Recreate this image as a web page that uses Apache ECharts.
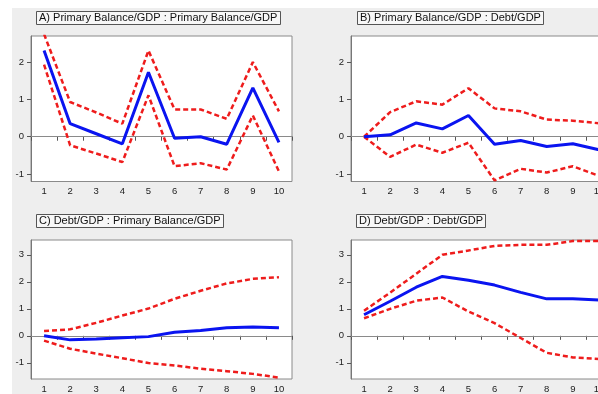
<!DOCTYPE html>
<html><head><meta charset="utf-8">
<script src="https://cdn.jsdelivr.net/npm/echarts@6/dist/echarts.min.js"></script>
<style>html,body{margin:0;padding:0;background:#fff;overflow:hidden}#c{width:620px;height:394px}</style>
</head><body><div id="c"></div>
<script>
const categories = ['1','2','3','4','5','6','7','8','9','10'];
const titles = [
  'A) Primary Balance/GDP : Primary Balance/GDP',
  'B) Primary Balance/GDP : Debt/GDP',
  'C) Debt/GDP : Primary Balance/GDP',
  'D) Debt/GDP : Debt/GDP'
];
const aMid = [2.31, 0.35, 0.08, -0.19, 1.73, -0.04, 0.0, -0.2, 1.31, -0.15];
const aUp  = [2.75, 0.93, 0.65, 0.35, 2.31, 0.73, 0.73, 0.48, 2.0, 0.68];
const aLo  = [1.93, -0.23, -0.45, -0.68, 1.11, -0.79, -0.71, -0.88, 0.57, -0.93];
const bMid = [0, 0.05, 0.37, 0.21, 0.57, -0.2, -0.1, -0.26, -0.19, -0.35];
const bUp  = [0, 0.66, 0.95, 0.86, 1.3, 0.76, 0.68, 0.46, 0.43, 0.36];
const bLo  = [0, -0.54, -0.21, -0.43, -0.16, -1.17, -0.86, -0.96, -0.79, -1.05];
const cMid = [0, -0.15, -0.12, -0.07, -0.03, 0.13, 0.2, 0.3, 0.33, 0.3];
const cUp  = [0.18, 0.24, 0.48, 0.75, 1.01, 1.37, 1.67, 1.94, 2.11, 2.17];
const cLo  = [-0.18, -0.48, -0.66, -0.83, -1.01, -1.1, -1.22, -1.31, -1.41, -1.55];
const dMid = [0.78, 1.28, 1.8, 2.2, 2.06, 1.88, 1.61, 1.37, 1.37, 1.33];
const dUp  = [0.93, 1.6, 2.3, 3.0, 3.16, 3.33, 3.37, 3.37, 3.51, 3.51];
const dLo  = [0.65, 1.0, 1.3, 1.42, 0.9, 0.47, -0.08, -0.63, -0.8, -0.86];
const ticksTop = [-1, 0, 1, 2];
const ticksBottom = [-1, 0, 1, 2, 3];
const rangeTop = [-1.2, 2.7];
const rangeBottom = [-1.6, 3.55];

const panels = [
  {mid: aMid, up: aUp, lo: aLo, ticks: ticksTop, range: rangeTop},
  {mid: bMid, up: bUp, lo: bLo, ticks: ticksTop, range: rangeTop},
  {mid: cMid, up: cUp, lo: cLo, ticks: ticksBottom, range: rangeBottom},
  {mid: dMid, up: dUp, lo: dLo, ticks: ticksBottom, range: rangeBottom}
];
const gridPos = [
  {left: 31, top: 36, width: 261, height: 145.5},
  {left: 351, top: 36, width: 261, height: 145.5},
  {left: 31, top: 240, width: 261, height: 143.5},
  {left: 351, top: 240, width: 261, height: 143.5}
];
const titlePos = [
  {left: 36, top: 11},
  {left: 357, top: 11},
  {left: 36, top: 214},
  {left: 356, top: 214}
];
const FONT = "'Liberation Sans', Arial, sans-serif";
const chart = echarts.init(document.getElementById('c'), null, {renderer: 'canvas'});
const option = {
  animation: false,
  backgroundColor: '#ffffff',
  graphic: [{type: 'rect', shape: {x: 12, y: 8, width: 620, height: 400}, style: {fill: '#eeeeee'}, z: -10, silent: true}],
  title: titles.map((t, i) => ({
    text: t, left: titlePos[i].left, top: titlePos[i].top,
    padding: [1, 3, 1, 3], borderColor: '#555', borderWidth: 1, backgroundColor: '#f7f7f7',
    textStyle: {fontFamily: FONT, fontSize: 11, fontWeight: 'normal', color: '#111', lineHeight: 12}
  })),
  grid: gridPos.map(g => Object.assign({show: true, backgroundColor: '#fff', borderColor: '#8a8a8a', borderWidth: 1, containLabel: false}, g)),
  xAxis: panels.map((p, i) => ({
    type: 'category', gridIndex: i, data: categories, boundaryGap: true,
    axisLine: {lineStyle: {color: '#777', width: 1}},
    axisTick: {show: true, inside: false, length: 4, alignWithLabel: false, lineStyle: {color: '#555'}},
    axisLabel: {fontFamily: FONT, fontSize: 9.5, color: '#222', margin: 5, interval: 0},
    splitLine: {show: false}
  })),
  yAxis: panels.map((p, i) => ({
    type: 'value', gridIndex: i, min: p.range[0], max: p.range[1],
    axisLine: {show: true, lineStyle: {color: '#777'}},
    axisTick: {show: true, length: 4, lineStyle: {color: '#555'}, customValues: p.ticks},
    axisLabel: {fontFamily: FONT, fontSize: 9.5, color: '#222', margin: 7, customValues: p.ticks},
    splitLine: {show: false}
  })),
  series: []
};
panels.forEach((p, i) => {
  option.series.push({
    type: 'line', xAxisIndex: i, yAxisIndex: i, data: p.up, symbol: 'none', z: 3,
    lineStyle: {color: '#ee1c1c', width: 2.5, type: [5, 3]},
    markLine: {silent: true, symbol: 'none', label: {show: false}, lineStyle: {color: '#8a8a8a', width: 1, type: 'solid'}, data: [{yAxis: 0}], z: 1}
  });
  option.series.push({
    type: 'line', xAxisIndex: i, yAxisIndex: i, data: p.lo, symbol: 'none', z: 3,
    lineStyle: {color: '#ee1c1c', width: 2.5, type: [5, 3]}
  });
  option.series.push({
    type: 'line', xAxisIndex: i, yAxisIndex: i, data: p.mid, symbol: 'none', z: 4,
    lineStyle: {color: '#0a14f0', width: 3}
  });
});
chart.setOption(option);
</script></body></html>
